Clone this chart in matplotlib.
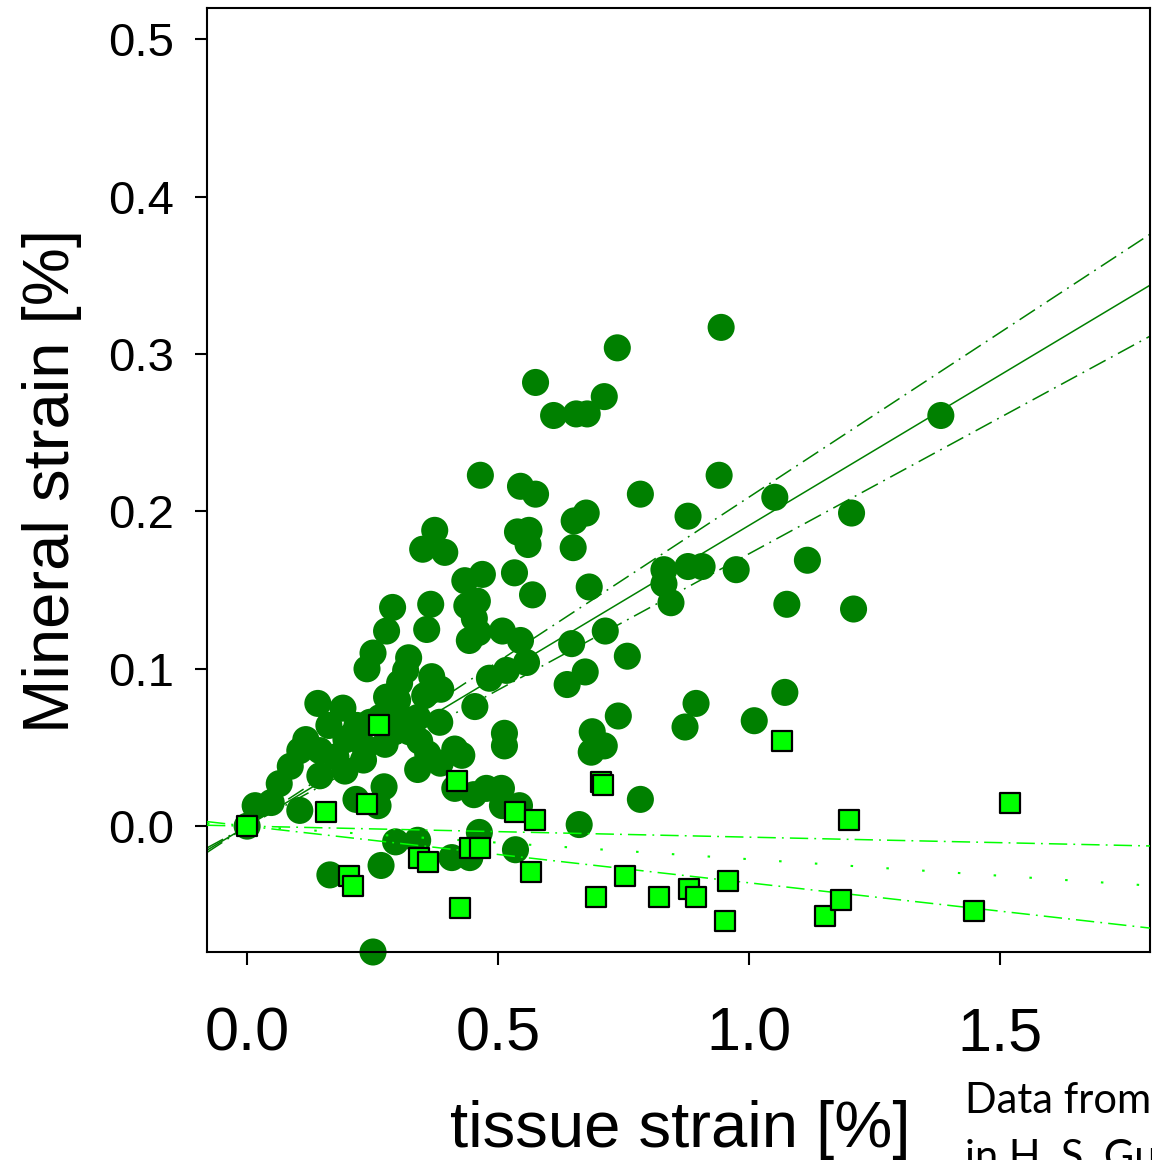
import numpy as np
import matplotlib
matplotlib.use("Agg")
import matplotlib.pyplot as plt

# --- measured strains [%] ---
# tissue strain / mineral strain, group 1 (dark green circles)
circle_x = [
    0.945, 0.738, 0.575, 0.611, 0.656, 0.678, 0.712, 1.383, 0.465, 0.941,
    0.545, 0.575, 0.784, 1.052, 0.374, 0.350, 0.394, 0.652, 0.676, 0.879,
    1.205, 0.539, 0.562, 0.560, 0.650, 0.831, 0.831, 0.879, 0.907, 0.975,
    1.117, 0.469, 0.434, 0.459, 0.533, 0.569, 0.682, 0.845, 1.076, 1.209,
    0.290, 0.366, 0.278, 0.358, 0.438, 0.453, 0.443, 0.461, 0.509, 0.545,
    0.714, 0.647, 0.251, 0.239, 0.322, 0.316, 0.304, 0.368, 0.354, 0.386,
    0.483, 0.517, 0.557, 0.758, 0.674, 0.638, 0.895, 1.072, 0.454, 0.740,
    1.011, 0.873, 0.513, 0.513, 0.688, 0.686, 0.712, 0.141, 0.191, 0.117,
    0.105, 0.163, 0.086, 0.064, 0.048, 0.016, 0.105, 0.145, 0.195, 0.197,
    0.177, 0.219, 0.265, 0.235, 0.245, 0.275, 0.294, 0.304, 0.340, 0.344,
    0.384, 0.414, 0.340, 0.360, 0.273, 0.261, 0.217, 0.414, 0.452, 0.477,
    0.507, 0.509, 0.543, 0.296, 0.340, 0.408, 0.444, 0.463, 0.535, 0.662,
    0.784, 0.165, 0.267, 0.251, 0.000, 0.145, 0.210, 0.232, 0.300, 0.278,
    0.323, 0.385, 0.428, 0.275,
]
circle_y = [
    0.317, 0.304, 0.282, 0.261, 0.262, 0.262, 0.273, 0.261, 0.223, 0.223,
    0.216, 0.211, 0.211, 0.209, 0.188, 0.176, 0.174, 0.194, 0.199, 0.197,
    0.199, 0.187, 0.188, 0.179, 0.177, 0.163, 0.154, 0.165, 0.165, 0.163,
    0.169, 0.160, 0.156, 0.143, 0.161, 0.147, 0.152, 0.142, 0.141, 0.138,
    0.139, 0.141, 0.124, 0.125, 0.140, 0.132, 0.118, 0.123, 0.124, 0.118,
    0.124, 0.116, 0.110, 0.100, 0.107, 0.099, 0.091, 0.095, 0.083, 0.087,
    0.094, 0.099, 0.104, 0.108, 0.098, 0.090, 0.078, 0.085, 0.076, 0.070,
    0.067, 0.063, 0.059, 0.051, 0.060, 0.047, 0.051, 0.078, 0.075, 0.055,
    0.048, 0.064, 0.038, 0.027, 0.015, 0.013, 0.010, 0.032, 0.035, 0.055,
    0.044, 0.064, 0.069, 0.050, 0.066, 0.052, 0.060, 0.070, 0.069, 0.054,
    0.066, 0.049, 0.036, 0.046, 0.025, 0.013, 0.017, 0.024, 0.020, 0.024,
    0.024, 0.013, 0.013, -0.010, -0.009, -0.020, -0.020, -0.004, -0.015, 0.001,
    0.017, -0.031, -0.025, -0.080, 0.000, 0.048, 0.058, 0.042, 0.080, 0.082,
    0.060, 0.040, 0.045, 0.070,
]

# group 2 (light green squares)
square_x = [
    0.000, 0.263, 0.157, 0.239, 0.203, 0.211, 0.342, 0.360, 0.418, 0.444,
    0.465, 0.424, 0.535, 0.573, 0.565, 0.706, 0.710, 0.696, 0.754, 0.821,
    0.881, 0.895, 0.959, 0.953, 1.066, 1.200, 1.152, 1.184, 1.450, 1.520,
]
square_y = [
    0.000, 0.064, 0.009, 0.014, -0.032, -0.038, -0.020, -0.023, 0.029, -0.014,
    -0.014, -0.052, 0.009, 0.004, -0.029, 0.028, 0.026, -0.045, -0.032, -0.045,
    -0.040, -0.045, -0.035, -0.060, 0.054, 0.004, -0.057, -0.047, -0.054, 0.015,
]

# linear fits through the origin: slope and 95% band slopes
circle_fit_slope = 0.191
circle_fit_band = (0.173, 0.209)
square_fit_slope = -0.021
square_fit_band = (-0.036, -0.007)

y_ticks = [0.0, 0.1, 0.2, 0.3, 0.4, 0.5]
x_ticks = [0.0, 0.5, 1.0, 1.5]

DARK = "#008000"
LIGHT = "#00ff00"

plt.rcParams["font.family"] = ["Liberation Sans", "DejaVu Sans"]

fig = plt.figure(figsize=(11.52, 11.6), dpi=100)
ax = fig.add_axes([207 / 1152, 1 - 952 / 1160, (1150 - 207) / 1152, (952 - 8) / 1160])

xlim = (-0.08, 1.8)
xs = np.linspace(xlim[0], xlim[1], 200)

dashdot = (0, (12, 4, 1.2, 4))
# fit for circles (drawn beneath the markers)
ax.plot(xs, circle_fit_slope * xs, color=DARK, lw=1.1, zorder=1)
for s in circle_fit_band:
    ax.plot(xs, s * xs, color=DARK, lw=1.1, ls=dashdot, zorder=1)

ax.scatter(circle_x, circle_y, s=380, marker="o", color=DARK,
           edgecolors="none", zorder=2, clip_on=False)

# fit for squares
ax.plot(xs, square_fit_slope * xs, color=LIGHT, lw=1.5, ls=(0, (1.2, 16)), zorder=3)
for s in square_fit_band:
    ax.plot(xs, s * xs, color=LIGHT, lw=1.1, ls=dashdot, zorder=3)

ax.scatter(square_x, square_y, s=205, marker="s", color=LIGHT,
           edgecolors="black", linewidths=1.6, zorder=4, clip_on=False)

ax.set_xlim(*xlim)
ax.set_ylim(-0.08, 0.52)
ax.set_xticks(x_ticks)
ax.set_xticklabels([f"{v:.1f}" for v in x_ticks])
ax.set_yticks(y_ticks)
ax.set_yticklabels([f"{v:.1f}" for v in y_ticks])

for sp in ax.spines.values():
    sp.set_linewidth(1.5)
ax.tick_params(axis="both", direction="out", length=9, width=1.5, color="black")
ax.tick_params(axis="x", labelsize=44, pad=30)
ax.tick_params(axis="y", labelsize=34, pad=15)

fig.text(52 / 1152, 1 - 481 / 1160, "Mineral strain [%]", rotation=90,
         ha="center", va="center", fontsize=47)
fig.text(680 / 1152, 1 - 1147 / 1160, "tissue strain [%]",
         ha="center", va="baseline", fontsize=47)

fig.text(965 / 1152, 1 - 1113 / 1160, "Data from", ha="left", va="baseline",
         fontsize=30, family=["Lato", "DejaVu Sans"])
fig.text(965 / 1152, 1 - 1170 / 1160, "in H. S. Gupta", ha="left", va="baseline",
         fontsize=30, family=["Lato", "DejaVu Sans"])

fig.savefig("out.png", dpi=100)
